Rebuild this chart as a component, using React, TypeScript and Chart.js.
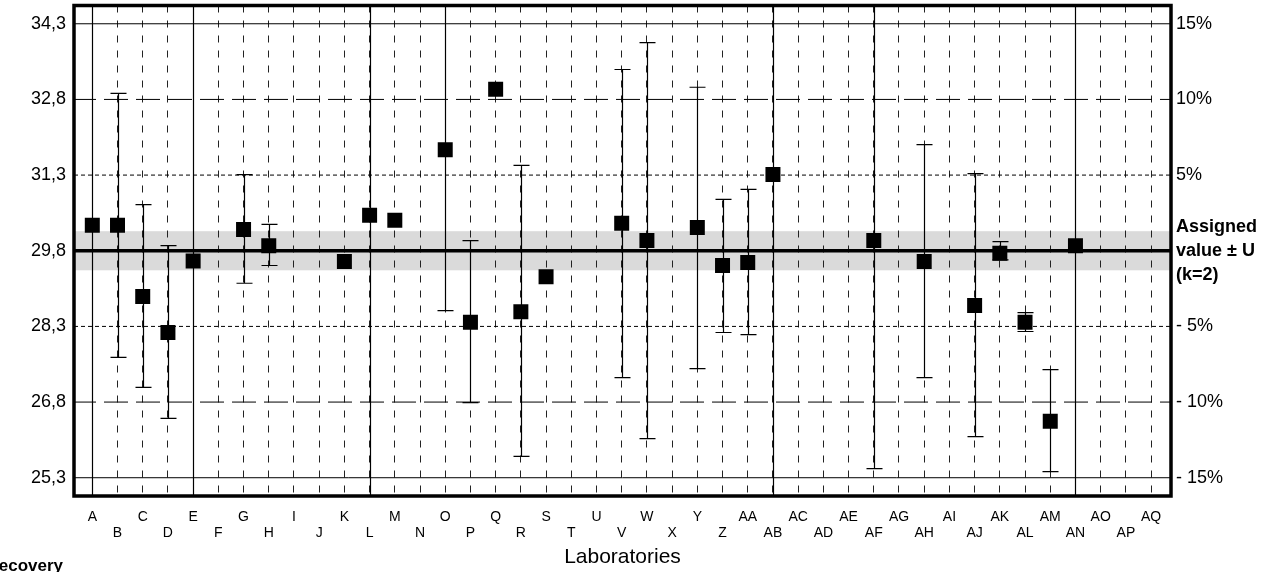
import React, { useEffect, useRef } from 'react';
import { Chart, registerables } from 'chart.js';

Chart.register(...registerables);

const FONT = '"Liberation Sans", Arial, Helvetica, sans-serif';

const labs = [
  'A','B','C','D','E','F','G','H','I','J','K','L','M','N','O','P','Q','R','S','T','U','V','W','X','Y','Z',
  'AA','AB','AC','AD','AE','AF','AG','AH','AI','AJ','AK','AL','AM','AN','AO','AP','AQ',
];

const assignedValue = 29.8;
const expandedU = 0.385;

const values: (number | null)[] = [
  30.30, 30.30, 28.90, 28.19, 29.60, null, 30.22, 29.90, null, null, 29.59, 30.50, 30.40, null,
  31.79, 28.39, 32.98, 28.60, 29.29, null, null, 30.34, 30.00, null, 30.26, 29.51,
  29.57, 31.30, null, null, null, 30.00, null, 29.59, null, 28.72, 29.75, 28.39, 26.44, 29.90, null, null, null,
];

const lowerLimits: (number | null)[] = [
  24.0, 27.70, 27.11, 26.50, 24.0, null, 29.16, 29.51, null, null, null, 24.0, null, null,
  28.62, 26.81, null, 25.75, null, null, null, 27.30, 26.10, null, 27.48, 28.19,
  28.15, 24.0, null, null, null, 25.51, null, 27.30, null, 26.14, 29.62, 28.21, 25.45, 24.0, null, null, null,
];

const upperLimits: (number | null)[] = [
  35.5, 32.90, 30.71, 29.90, 35.5, null, 31.30, 30.32, null, null, null, 35.5, null, null,
  35.5, 30.00, null, 31.48, null, null, null, 33.37, 33.90, null, 33.02, 30.81,
  31.01, 35.5, null, null, null, 35.5, null, 31.89, null, 31.32, 29.98, 28.58, 27.46, 35.5, null, null, null,
];

const tickValues = [25.33, 26.82, 28.31, 29.8, 31.29, 32.78, 34.27];
const leftTickLabels = ['25,3', '26,8', '28,3', '29,8', '31,3', '32,8', '34,3'];
const rightTickLabels: (string | string[])[] = ['- 15%', '- 10%', '- 5%', ['Assigned', 'value ± U', '(k=2)'], '5%', '10%', '15%'];

const Y_MIN = 24.97;
const Y_MAX = 34.63;
const X_MIN = -0.726;
const X_MAX = 42.79;

const zeroPad = (s: any) => {
  s.paddingTop = 0;
  s.paddingBottom = 0;
  s.paddingLeft = 0;
  s.paddingRight = 0;
};

const bandPlugin = {
  id: 'band',
  beforeDraw(chart: any) {
    const { ctx, chartArea, scales } = chart;
    const y = scales.y;
    const top = y.getPixelForValue(assignedValue + expandedU);
    const bot = y.getPixelForValue(assignedValue - expandedU);
    ctx.save();
    ctx.fillStyle = '#dadada';
    ctx.fillRect(chartArea.left, top, chartArea.right - chartArea.left, bot - top);
    ctx.restore();
  },
};

const refLinesPlugin = {
  id: 'refLines',
  beforeDatasetsDraw(chart: any) {
    const { ctx, chartArea, scales } = chart;
    const y = scales.y;
    ctx.save();
    tickValues.forEach((v, i) => {
      const py = y.getPixelForValue(v);
      let dash: number[] = [];
      let width = 1;
      if (i === 1 || i === 5) dash = [24, 8];
      else if (i === 2 || i === 4) dash = [4, 3];
      else if (i === 3) width = 3.5;
      ctx.beginPath();
      ctx.setLineDash(dash);
      ctx.lineDashOffset = i === 1 || i === 5 ? 2 : 0;
      ctx.lineWidth = width;
      ctx.strokeStyle = '#000';
      ctx.moveTo(chartArea.left, py);
      ctx.lineTo(chartArea.right, py);
      ctx.stroke();
    });
    ctx.restore();

    // error bars
    const x = scales.x;
    ctx.save();
    ctx.beginPath();
    ctx.rect(chartArea.left, chartArea.top, chartArea.right - chartArea.left, chartArea.bottom - chartArea.top);
    ctx.clip();
    ctx.setLineDash([]);
    ctx.strokeStyle = '#000';
    ctx.lineWidth = 1.2;
    labs.forEach((_, i) => {
      const lo = lowerLimits[i];
      const hi = upperLimits[i];
      if (lo == null || hi == null) return;
      const px = Math.round(x.getPixelForValue(i)) + 0.5;
      const pl = y.getPixelForValue(lo);
      const ph = y.getPixelForValue(hi);
      ctx.beginPath();
      ctx.moveTo(px, pl);
      ctx.lineTo(px, ph);
      ctx.moveTo(px - 8, pl);
      ctx.lineTo(px + 8, pl);
      ctx.moveTo(px - 8, ph);
      ctx.lineTo(px + 8, ph);
      ctx.stroke();
    });
    ctx.restore();
  },
};

const framePlugin = {
  id: 'frame',
  afterDraw(chart: any) {
    const { ctx, chartArea } = chart;
    ctx.save();
    ctx.strokeStyle = '#000';
    ctx.lineWidth = 3.5;
    ctx.setLineDash([]);
    ctx.strokeRect(chartArea.left, chartArea.top, chartArea.right - chartArea.left, chartArea.bottom - chartArea.top);
    ctx.font = `bold 17px ${FONT}`;
    ctx.fillStyle = '#000';
    ctx.textAlign = 'right';
    ctx.textBaseline = 'alphabetic';
    ctx.fillText('Recovery', 63, 571);
    ctx.restore();
  },
};

export default function App() {
  const ref = useRef<HTMLCanvasElement | null>(null);

  useEffect(() => {
    document.body.style.margin = '0';
    if (!ref.current) return;
    const points = labs
      .map((_, i) => (values[i] == null ? null : { x: i, y: values[i] as number }))
      .filter((p) => p !== null) as { x: number; y: number }[];

    const chart = new Chart(ref.current, {
      type: 'scatter',
      data: {
        datasets: [
          {
            data: points,
            pointStyle: 'rect',
            pointRadius: 10.6,
            pointHoverRadius: 10.6,
            backgroundColor: '#000',
            borderColor: '#000',
            borderWidth: 0,
          },
        ],
      },
      options: {
        animation: false,
        responsive: true,
        maintainAspectRatio: false,
        layout: { autoPadding: false, padding: { top: 5.5, left: 0, right: 0, bottom: 0 } },
        plugins: { legend: { display: false }, tooltip: { enabled: false } },
        events: [],
        scales: {
          x: {
            type: 'linear',
            min: X_MIN,
            max: X_MAX,
            afterBuildTicks: (s: any) => {
              s.ticks = labs.map((_, i) => ({ value: i }));
            },
            afterFit: (s: any) => {
              s.height = 76;
              zeroPad(s);
            },
            ticks: {
              autoSkip: false,
              maxRotation: 0,
              minRotation: 0,
              padding: 13,
              color: '#000',
              font: { family: FONT, size: 14, lineHeight: 1.143 },
              callback: (_v: any, i: number) => (i % 2 === 0 ? [labs[i], ''] : ['', labs[i]]),
            },
            grid: { drawTicks: false, color: '#222', lineWidth: 1 },
            border: { display: false, dash: [7, 8] },
            title: {
              display: true,
              text: 'Laboratories',
              color: '#000',
              font: { family: FONT, size: 21, lineHeight: 1.2 },
              padding: { top: 0, bottom: 2 },
            },
          },
          y: {
            type: 'linear',
            position: 'left',
            min: Y_MIN,
            max: Y_MAX,
            afterBuildTicks: (s: any) => {
              s.ticks = tickValues.map((v) => ({ value: v }));
            },
            afterFit: (s: any) => {
              s.width = 74;
              zeroPad(s);
            },
            ticks: {
              padding: 8,
              color: '#000',
              font: { family: FONT, size: 18 },
              callback: (_v: any, i: number) => leftTickLabels[i],
            },
            grid: { display: false, drawTicks: false },
            border: { display: false },
          },
          y2: {
            type: 'linear',
            position: 'right',
            min: Y_MIN,
            max: Y_MAX,
            afterBuildTicks: (s: any) => {
              s.ticks = tickValues.map((v) => ({ value: v }));
            },
            afterFit: (s: any) => {
              s.width = 109;
              zeroPad(s);
            },
            ticks: {
              padding: 5,
              color: '#000',
              font: (c: any) => ({
                family: FONT,
                size: 18,
                weight: c.index === 3 ? 'bold' : 'normal',
                lineHeight: 1.33,
              }),
              callback: (_v: any, i: number) => rightTickLabels[i],
            },
            grid: { display: false, drawTicks: false },
            border: { display: false },
          },
        },
      } as any,
      plugins: [bandPlugin, refLinesPlugin, framePlugin],
    });
    return () => chart.destroy();
  }, []);

  return (
    <div style={{ width: 1280, height: 572, position: 'relative' }}>
      <canvas ref={ref} />
    </div>
  );
}
